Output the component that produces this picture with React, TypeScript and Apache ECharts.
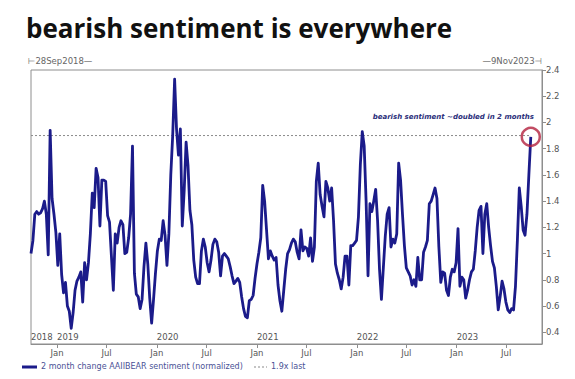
import React, { useEffect, useRef } from "react";
import * as echarts from "echarts";

// Weekly observations starting 28 Sep 2018 (2 month change in AAII bearish sentiment, normalized)
const START_DATE = "2018-09-28";
const AXIS_END_DATE = "2023-11-09";
const bearValues: number[] = [
  1.00, 1.10, 1.30, 1.32, 1.30, 1.31, 1.34, 1.40, 1.30, 0.99,
  1.94, 1.42, 1.30, 1.16, 0.91, 1.15, 0.84, 0.70, 0.78, 0.60,
  0.56, 0.43, 0.55, 0.72, 0.79, 0.82, 0.86, 0.63, 0.93, 0.80,
  0.93, 1.15, 1.46, 1.35, 1.65, 1.58, 1.21, 1.56, 1.56,
  1.55, 1.29, 1.24, 0.98, 0.72, 1.15, 1.08, 1.20, 1.25, 1.22,
  1.00, 1.01, 1.12, 1.30, 1.82, 0.85, 0.69, 0.67, 0.58, 0.65,
  0.90, 1.08, 0.92, 0.66, 0.47, 0.65, 0.85, 1.02, 1.11, 1.10,
  1.25, 1.14, 0.91, 1.15, 1.60, 1.90, 2.33,
  1.95, 1.75, 1.95, 1.21, 1.48, 1.85, 1.67, 1.33, 1.22, 0.95,
  0.82, 0.77, 0.77, 1.02, 1.11, 1.05, 0.93, 0.86, 0.95, 1.07,
  1.11, 1.09, 1.01, 0.83, 0.98, 1.00, 0.98, 0.96, 0.90, 0.83,
  0.77, 0.79, 0.81, 0.78, 0.67, 0.58, 0.52,
  0.51, 0.64, 0.65, 0.68, 0.81, 0.92, 1.01, 1.12, 1.52, 1.40,
  1.18, 0.96, 1.02, 0.98, 0.95, 0.97, 0.76, 0.64, 0.56, 0.72,
  0.88, 1.00, 1.03, 1.08, 1.11, 1.09, 1.01, 0.96, 1.18, 1.02,
  1.05, 1.04, 0.98, 1.12, 0.94, 1.05, 1.55, 1.69,
  1.45, 1.36, 1.28, 1.55, 1.50, 1.40, 1.50, 1.25, 0.92, 0.85,
  0.80, 0.73, 0.82, 0.98, 0.98, 0.76, 1.06, 1.06, 1.08, 1.10,
  1.28, 1.68, 1.93, 1.82, 1.40, 0.83, 1.38, 1.32, 1.40, 1.49,
  1.25, 0.88, 0.65, 0.89, 1.13, 1.30, 1.35,
  1.05, 1.11, 1.08, 1.15, 1.69, 1.56, 1.30, 1.06, 0.89, 0.86,
  0.83, 0.76, 0.80, 0.75, 0.97, 0.80, 0.80, 1.01, 1.05, 1.10,
  1.38, 1.40, 1.45, 1.50, 1.42, 1.05, 0.78, 0.86, 0.85, 0.72,
  0.68, 0.82, 0.88, 0.86, 0.93, 1.19, 0.75, 0.82,
  0.80, 0.66, 0.72, 0.80, 0.86, 0.88, 1.02, 1.20, 1.33, 1.36,
  1.00, 1.30, 1.38, 1.20, 1.06, 0.94, 0.89, 0.75, 0.57, 0.67,
  0.79, 0.73, 0.63, 0.57, 0.55, 0.58, 0.57, 0.75, 1.10, 1.50,
  1.36, 1.18, 1.14, 1.30, 1.60, 1.89,
];
const LAST_LEVEL = 1.9;
const yTickValues = [0.4, 0.6, 0.8, 1, 1.2, 1.4, 1.6, 1.8, 2, 2.2, 2.4];
const monthTickDates = [
  "2019-01-01", "2019-07-01", "2020-01-01", "2020-07-01", "2021-01-01",
  "2021-07-01", "2022-01-01", "2022-07-01", "2023-01-01", "2023-07-01",
];
const yearLabelDates = ["2018-09-28", "2019-01-01", "2020-01-01", "2021-01-01", "2022-01-01", "2023-01-01"];

const SERIES_NAME = "2 month change AAIIBEAR sentiment (normalized)";
const LAST_NAME = "1.9x last";
const TITLE = "bearish sentiment is everywhere";
const ANNOTATION = "bearish sentiment ~doubled in 2 months";

const ts = (d: string) => Date.parse(d + "T00:00:00Z");
const WEEK_MS = 7 * 86400000;

export default function App() {
  const ref = useRef<HTMLDivElement>(null);
  useEffect(() => {
    if (!ref.current) return;
    const chart = echarts.init(ref.current, null, { renderer: "svg" });
    const start = ts(START_DATE);
    const end = ts(AXIS_END_DATE);
    const seriesData = bearValues.map((v, i) => [start + i * WEEK_MS, v]);
    const lastPoint = seriesData[seriesData.length - 1];
    const monthTicks = monthTickDates.map(ts);
    const yearTicks = yearLabelDates.map(ts);
    const axisColor = "#8e8e8e";
    const labelColor = "#555";
    const font = "DejaVu Sans";
    const lineColor = "#1b1b8a";
    const legendText = "#4a5296";

    chart.setOption({
      animation: false,
      backgroundColor: "#fff",
      title: {
        text: TITLE,
        left: 21,
        top: 10,
        textStyle: { fontFamily: "Open Sans", fontWeight: "bold", fontSize: 26, color: "#111" },
      },
      grid: { left: 31, right: 33, top: 70, bottom: 35, show: true, borderColor: axisColor, borderWidth: 1, outerBoundsMode: "none" },
      xAxis: [
        {
          type: "value",
          min: start,
          max: end,
          position: "bottom",
          axisLine: { show: true, lineStyle: { color: axisColor } },
          splitLine: { show: false },
          axisTick: { show: true, customValues: monthTicks, length: 4, lineStyle: { color: axisColor } },
          axisLabel: {
            customValues: monthTicks,
            fontFamily: font,
            fontSize: 8.5,
            color: labelColor,
            margin: 4,
            formatter: (v: number) => (new Date(v).getUTCMonth() === 0 ? "Jan" : "Jul"),
          },
        },
        {
          type: "value",
          min: start,
          max: end,
          position: "bottom",
          axisLine: { show: false },
          axisTick: { show: false },
          splitLine: { show: false },
          axisLabel: {
            inside: true,
            customValues: yearTicks,
            showMinLabel: true,
            align: "left",
            margin: 3,
            fontFamily: font,
            fontSize: 8.5,
            color: labelColor,
            formatter: (v: number) => String(new Date(v).getUTCFullYear()),
          },
        },
      ],
      yAxis: {
        type: "value",
        position: "right",
        min: 0.31,
        max: 2.4,
        splitLine: { show: false },
        axisLine: { show: true, lineStyle: { color: axisColor } },
        axisTick: { show: true, customValues: yTickValues, length: 4, lineStyle: { color: axisColor } },
        axisLabel: {
          customValues: yTickValues,
          fontFamily: font,
          fontSize: 8.5,
          color: labelColor,
          margin: 4,
          formatter: (v: number) => String(Math.round(v * 10) / 10),
        },
      },
      graphic: [
        {
          type: "text",
          left: 28,
          top: 56,
          style: { text: "⊢28Sep2018—", fontFamily: font, fontSize: 8.5, fill: "#666" },
        },
        {
          type: "text",
          right: 33,
          top: 56,
          style: { text: "—9Nov2023⊣", fontFamily: font, fontSize: 8.5, fill: "#666" },
        },
        {
          type: "text",
          right: 41,
          top: 113,
          style: { text: ANNOTATION, fontFamily: font, fontSize: 7, fontStyle: "italic", fontWeight: "bold", fill: "#2b2f7a" },
        },
        // legend
        {
          type: "line",
          shape: { x1: 22, y1: 367, x2: 37, y2: 367 },
          style: { stroke: lineColor, lineWidth: 3 },
        },
        {
          type: "text",
          left: 41,
          top: 362,
          style: { text: SERIES_NAME, fontFamily: font, fontSize: 8, fill: legendText },
        },
        {
          type: "line",
          shape: { x1: 254, y1: 367, x2: 267, y2: 367 },
          style: { stroke: "#8a8a8a", lineWidth: 1.2, lineDash: [2, 2] },
        },
        {
          type: "text",
          left: 271,
          top: 362,
          style: { text: LAST_NAME, fontFamily: font, fontSize: 8, fill: legendText },
        },
      ],
      series: [
        {
          name: LAST_NAME,
          type: "line",
          data: [[start, LAST_LEVEL], [lastPoint[0], LAST_LEVEL]],
          symbol: "none",
          lineStyle: { color: "#8a8a8a", width: 1, type: [2, 2] },
          silent: true,
          z: 1,
        },
        {
          name: SERIES_NAME,
          type: "line",
          data: seriesData,
          symbol: "none",
          lineStyle: { color: lineColor, width: 2.8, join: "round" },
          z: 2,
        },
        {
          name: "last",
          type: "scatter",
          data: [lastPoint],
          symbol: "circle",
          symbolSize: 18,
          itemStyle: { color: "rgba(255,255,255,0)", borderColor: "#b3203d", borderWidth: 2.5 },
          z: 3,
        },
      ],
    });
    return () => chart.dispose();
  }, []);
  return <div ref={ref} style={{ width: 575, height: 379, position: "absolute", left: 0, top: 0 }} />;
}
